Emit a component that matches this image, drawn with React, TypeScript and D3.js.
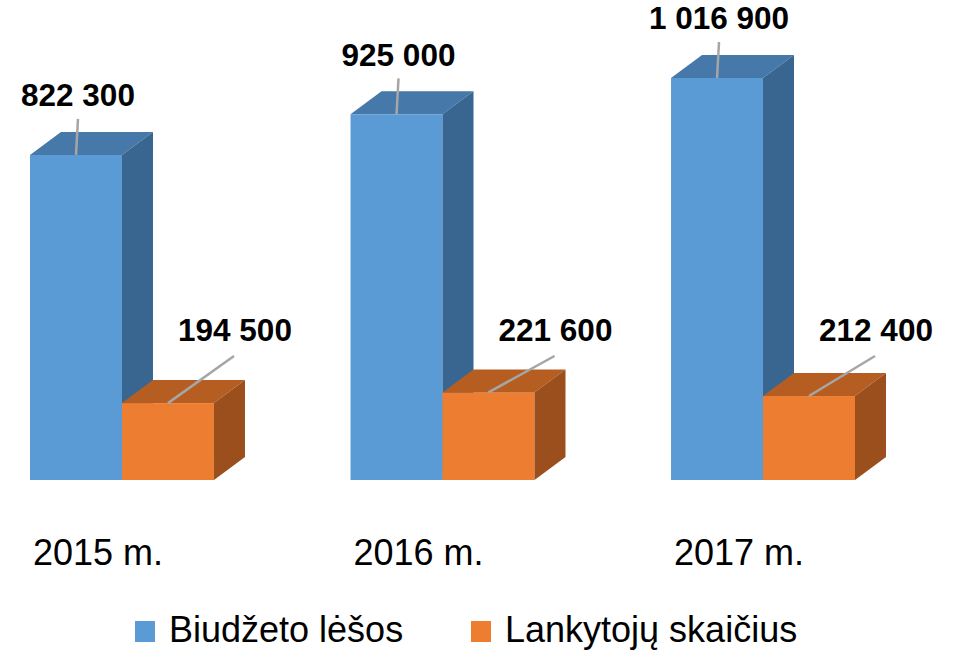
import React, { useRef, useEffect } from 'react';
import * as d3 from 'd3';

const years = ['2015 m.', '2016 m.', '2017 m.'];
const seriesNames = ['Biudžeto lėšos', 'Lankytojų skaičius'];
const budget = [822300, 925000, 1016900];
const visitors = [194500, 221600, 212400];

const faceColors = [
    { front: '#5b9bd5', top: '#4678aa', side: '#396690' },
    { front: '#ed7d31', top: '#b65e22', side: '#9a4f1c' },
];

function App() {
    const ref = useRef<SVGSVGElement | null>(null);

    useEffect(() => {
        const width = 959, height = 651;
        const baseline = 480;
        const depth = { dx: 31, dy: -23 };
        const fmt = (v: number) => d3.format(',')(v).replace(/,/g, ' ');

        const svg = d3.select(ref.current);
        svg.selectAll('*').remove();
        svg.attr('width', width).attr('height', height);

        const x0 = d3.scaleBand<string>().domain(years).range([30, 855]).paddingInner(0.426).paddingOuter(0);
        const x1 = d3.scaleBand<string>().domain(seriesNames).range([0, x0.bandwidth()]).padding(0);
        const y = d3.scaleLinear().domain([0, d3.max(budget) as number]).range([baseline, 78]);

        const values = [budget, visitors];

        // bars, blue first so orange covers its side face
        years.forEach((yr, i) => {
            seriesNames.forEach((s, si) => {
                const v = values[si][i];
                const xl = (x0(yr) as number) + (x1(s) as number);
                const xr = xl + x1.bandwidth();
                const yt = y(v);
                const c = faceColors[si];
                const g = svg.append('g');
                g.append('rect')
                    .attr('x', xl).attr('y', yt)
                    .attr('width', xr - xl).attr('height', baseline - yt)
                    .attr('fill', c.front);
                g.append('polygon')
                    .attr('points', [[xl, yt], [xl + depth.dx, yt + depth.dy], [xr + depth.dx, yt + depth.dy], [xr, yt]].map(p => p.join(',')).join(' '))
                    .attr('fill', c.top);
                g.append('polygon')
                    .attr('points', [[xr, yt], [xr + depth.dx, yt + depth.dy], [xr + depth.dx, baseline + depth.dy], [xr, baseline]].map(p => p.join(',')).join(' '))
                    .attr('fill', c.side);
            });
        });

        // data labels with leader lines
        years.forEach((yr, i) => {
            seriesNames.forEach((s, si) => {
                const v = values[si][i];
                const cx = (x0(yr) as number) + (x1(s) as number) + x1.bandwidth() / 2;
                const yt = y(v);
                let lx, ly, ex, ey;
                if (si === 0) {
                    lx = cx + 2; ly = yt - 60;
                    ex = cx + 2; ey = ly + 24;
                } else {
                    lx = cx + 67; ly = 330;
                    ex = cx + 66; ey = 356;
                }
                svg.append('line')
                    .attr('x1', cx).attr('y1', yt)
                    .attr('x2', ex).attr('y2', ey)
                    .attr('stroke', '#a6a6a6').attr('stroke-width', 2.5);
                svg.append('text')
                    .attr('x', lx).attr('y', ly)
                    .attr('dy', '0.36em')
                    .attr('text-anchor', 'middle')
                    .attr('font-family', '"Liberation Sans", Arial, sans-serif')
                    .attr('font-weight', 'bold')
                    .attr('font-size', 31.5)
                    .attr('fill', '#000')
                    .text(fmt(v));
            });
        });

        // category labels
        svg.selectAll('.cat')
            .data(years)
            .enter().append('text')
            .attr('class', 'cat')
            .attr('x', d => (x0(d) as number) + 3)
            .attr('y', 565)
            .attr('font-family', '"Liberation Sans", Arial, sans-serif')
            .attr('font-size', 36)
            .attr('fill', '#000')
            .text(d => d);

        // legend
        const legendX = [135, 471];
        seriesNames.forEach((s, si) => {
            svg.append('rect')
                .attr('x', legendX[si]).attr('y', 621)
                .attr('width', 20).attr('height', 21)
                .attr('fill', faceColors[si].front);
            svg.append('text')
                .attr('x', legendX[si] + 34).attr('y', 642)
                .attr('font-family', '"Liberation Sans", Arial, sans-serif')
                .attr('font-size', 36)
                .attr('fill', '#000')
                .text(s);
        });
    }, []);

    return (
        <svg ref={ref} style={{ position: 'absolute', left: 0, top: 0, background: '#fff' }} />
    );
}

export default App;
